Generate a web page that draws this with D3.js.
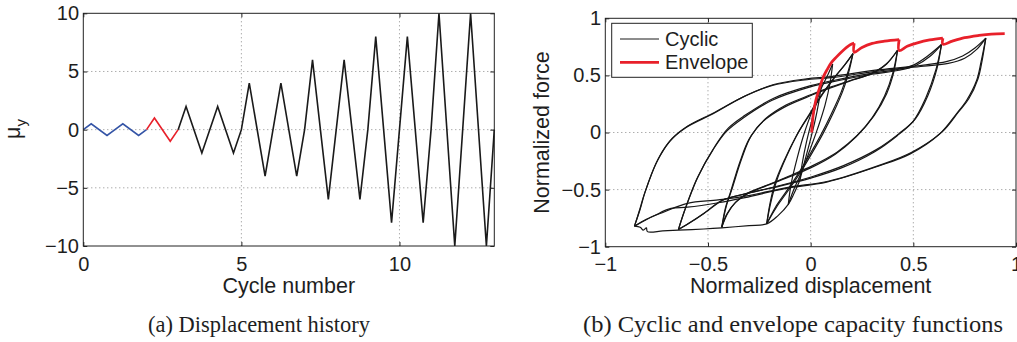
<!DOCTYPE html>
<html>
<head>
<meta charset="utf-8">
<script src="https://cdn.jsdelivr.net/npm/d3@7"></script>
<style>
  body { margin: 0; background: #fff; }
  svg text { font-family: "Liberation Sans", Arial, sans-serif; fill: #1e1e1e; }
  .caption { font-family: "Liberation Serif", "Times New Roman", serif; }
</style>
</head>
<body>
<svg id="fig" width="1017" height="342"></svg>
<script>
// ---------- (a) displacement history ----------
const historyT  = [0, 0.25, 0.75, 1, 1.25, 1.75, 2, 2.25, 2.75, 3, 3.25, 3.75, 4, 4.25, 4.75, 5,
                   5.25, 5.75, 6, 6.25, 6.75, 7, 7.25, 7.75, 8, 8.25, 8.75, 9, 9.25, 9.75, 10,
                   10.25, 10.75, 11, 11.25, 11.75, 12, 12.25, 12.75, 13];
const historyMu = [0, 0.5, -0.5, 0, 0.5, -0.5, 0, 1, -1, 0, 2, -2, 0, 2, -2, 0,
                   4, -4, 0, 4, -4, 0, 6, -6, 0, 6, -6, 0, 8, -8, 0,
                   8, -8, 0, 10, -10, 0, 10, -10, 0];
const phaseBreaks = [0, 2, 3, 13];          // blue part, red part, black part
const histXTicks = [0, 5, 10];
const histYTicks = [-10, -5, 0, 5, 10];

// ---------- (b) cyclic and envelope capacity ----------
const envelope = [[0.005,0.0],[0.012,0.15],[0.025,0.28],[0.04,0.37],[0.06,0.48],[0.08,0.55],[0.10,0.61],
  [0.125,0.66],[0.15,0.705],[0.175,0.745],[0.195,0.77],[0.212,0.782],
  [0.212,0.703],[0.25,0.745],[0.30,0.78],[0.36,0.80],[0.431,0.814],
  [0.431,0.718],[0.47,0.755],[0.52,0.785],[0.58,0.81],[0.644,0.826],
  [0.644,0.773],[0.69,0.80],[0.75,0.83],[0.82,0.85],[0.88,0.862],[0.945,0.866]];

const loopAUp   = [[-0.053,-0.42],[-0.04,-0.26],[-0.02,-0.08],[0.005,0.1],[0.03,0.27],[0.053,0.43]];
const loopADown = [[0.053,0.43],[0.04,0.27],[0.02,0.09],[-0.005,-0.09],[-0.03,-0.26],[-0.053,-0.42]];
const loopBUp   = [[-0.109,-0.63],[-0.095,-0.45],[-0.065,-0.22],[-0.03,0.0],[0.01,0.2],[0.05,0.38],[0.085,0.51],[0.107,0.60]];
const loopBDown = [[0.107,0.60],[0.095,0.44],[0.07,0.24],[0.035,0.04],[-0.005,-0.16],[-0.045,-0.35],[-0.08,-0.49],[-0.109,-0.63]];

const loop1Up    = [[-0.214,-0.80],[-0.195,-0.62],[-0.165,-0.42],[-0.12,-0.22],[-0.06,0.0],[0.0,0.17],[0.06,0.34],[0.12,0.49],[0.17,0.60],[0.206,0.69]];
const loop1Down  = [[0.206,0.69],[0.185,0.55],[0.15,0.36],[0.10,0.16],[0.05,-0.02],[0.0,-0.18],[-0.06,-0.36],[-0.12,-0.52],[-0.17,-0.65],[-0.214,-0.80]];
const loop1Up2   = [[-0.214,-0.80],[-0.20,-0.64],[-0.175,-0.45],[-0.13,-0.25],[-0.07,-0.03],[-0.01,0.15],[0.05,0.32],[0.11,0.47],[0.165,0.59],[0.206,0.69]];
const loop1Down2 = [[0.206,0.69],[0.19,0.56],[0.16,0.38],[0.11,0.17],[0.06,-0.01],[0.01,-0.17],[-0.05,-0.35],[-0.11,-0.51],[-0.165,-0.65],[-0.214,-0.80]];

const loop2Up    = [[-0.433,-0.83],[-0.41,-0.64],[-0.384,-0.50],[-0.336,-0.23],[-0.29,-0.03],[-0.22,0.12],[-0.12,0.24],[0.0,0.33],[0.10,0.40],[0.20,0.46],[0.30,0.52],[0.37,0.60],[0.423,0.72]];
const loop2Down  = [[0.423,0.72],[0.40,0.52],[0.36,0.32],[0.30,0.13],[0.22,-0.04],[0.12,-0.19],[0.0,-0.31],[-0.12,-0.40],[-0.22,-0.47],[-0.30,-0.53],[-0.37,-0.62],[-0.41,-0.72],[-0.433,-0.83]];
const loop2Up2   = [[-0.433,-0.83],[-0.415,-0.66],[-0.39,-0.52],[-0.345,-0.26],[-0.30,-0.06],[-0.23,0.10],[-0.13,0.22],[-0.01,0.315],[0.09,0.385],[0.19,0.45],[0.29,0.51],[0.365,0.595],[0.423,0.72]];
const loop2Down2 = [[0.423,0.72],[0.405,0.53],[0.37,0.34],[0.31,0.15],[0.23,-0.02],[0.13,-0.17],[0.01,-0.29],[-0.11,-0.385],[-0.21,-0.46],[-0.295,-0.52],[-0.365,-0.61],[-0.405,-0.71],[-0.433,-0.83]];

const loop3Up    = [[-0.644,-0.85],[-0.611,-0.67],[-0.547,-0.38],[-0.466,-0.12],[-0.40,0.04],[-0.32,0.15],[-0.18,0.30],[0.0,0.41],[0.15,0.47],[0.30,0.52],[0.42,0.55],[0.50,0.59],[0.57,0.67],[0.637,0.77]];
const loop3Down  = [[0.637,0.77],[0.61,0.55],[0.56,0.30],[0.50,0.10],[0.42,-0.03],[0.31,-0.17],[0.15,-0.31],[0.0,-0.40],[-0.15,-0.47],[-0.30,-0.53],[-0.433,-0.595],[-0.514,-0.70],[-0.58,-0.78],[-0.644,-0.85]];
const loop3Up2   = [[-0.644,-0.85],[-0.615,-0.69],[-0.555,-0.41],[-0.475,-0.15],[-0.41,0.01],[-0.33,0.125],[-0.19,0.28],[-0.01,0.395],[0.15,0.46],[0.30,0.51],[0.43,0.545],[0.51,0.585],[0.58,0.665],[0.637,0.77]];
const loop3Down2 = [[0.637,0.77],[0.615,0.56],[0.57,0.32],[0.51,0.12],[0.43,-0.01],[0.32,-0.15],[0.16,-0.29],[0.01,-0.385],[-0.14,-0.46],[-0.29,-0.525],[-0.425,-0.59],[-0.505,-0.69],[-0.575,-0.775],[-0.644,-0.85]];

const loop4Up    = [[-0.858,-0.82],[-0.83,-0.67],[-0.806,-0.52],[-0.742,-0.23],[-0.676,-0.055],[-0.60,0.055],[-0.466,0.178],[-0.32,0.32],[-0.18,0.42],[-0.02,0.47],[0.10,0.49],[0.337,0.55],[0.55,0.59],[0.66,0.62],[0.74,0.67],[0.80,0.74],[0.853,0.826]];
const loop4Down  = [[0.853,0.826],[0.83,0.62],[0.808,0.455],[0.759,0.28],[0.71,0.164],[0.629,-0.011],[0.485,-0.187],[0.321,-0.30],[0.078,-0.435],[-0.12,-0.49],[-0.32,-0.57],[-0.45,-0.615],[-0.60,-0.654],[-0.68,-0.665],[-0.76,-0.727],[-0.858,-0.82]];
const loop4Up2   = [[-0.858,-0.82],[-0.835,-0.69],[-0.81,-0.54],[-0.75,-0.26],[-0.685,-0.075],[-0.61,0.04],[-0.475,0.165],[-0.33,0.31],[-0.19,0.41],[-0.03,0.46],[0.10,0.48],[0.337,0.54],[0.55,0.58],[0.67,0.605],[0.75,0.65],[0.81,0.73],[0.853,0.826]];
const loop4Down2 = [[0.853,0.826],[0.835,0.63],[0.815,0.47],[0.77,0.295],[0.72,0.18],[0.64,0.005],[0.49,-0.175],[0.33,-0.29],[0.09,-0.425],[-0.11,-0.48],[-0.31,-0.555],[-0.45,-0.59],[-0.60,-0.62],[-0.72,-0.70],[-0.80,-0.76],[-0.858,-0.82]];

const negBackbone = [[-0.053,-0.42],[-0.08,-0.53],[-0.109,-0.63],[-0.16,-0.73],[-0.214,-0.80],[-0.30,-0.815],
  [-0.433,-0.835],[-0.52,-0.845],[-0.644,-0.855],[-0.72,-0.862],[-0.795,-0.868],[-0.80,-0.835],[-0.815,-0.855],[-0.83,-0.83],[-0.858,-0.82]];

const cyclicCurves = [loopAUp, loopADown, loopBUp, loopBDown,
  loop1Up, loop1Down, loop1Up2, loop1Down2,
  loop2Up, loop2Down, loop2Up2, loop2Down2,
  loop3Up, loop3Down, loop3Up2, loop3Down2,
  loop4Up, loop4Down, loop4Up2, loop4Down2, negBackbone];

const capTicks = [-1, -0.5, 0, 0.5, 1];
const legendLabels = ["Cyclic", "Envelope"];
const captions = ["(a) Displacement history", "(b) Cyclic and envelope capacity functions"];

// ---------- drawing ----------
const svg = d3.select("#fig");
const fmt = d => String(d).replace("-", "\u2212");

function frame(g, x, y, xt, yt) {
  const [x0, x1] = x.range(), [y0, y1] = y.range();
  // dotted grid
  g.append("g").selectAll("line").data(xt.filter(d => d > x.domain()[0] && d < x.domain()[1]))
    .join("line").attr("x1", d => x(d)).attr("x2", d => x(d)).attr("y1", y1).attr("y2", y0)
    .attr("stroke", "#8a8a8a").attr("stroke-dasharray", "1,3");
  g.append("g").selectAll("line").data(yt.filter(d => d > y.domain()[0] && d < y.domain()[1]))
    .join("line").attr("y1", d => y(d)).attr("y2", d => y(d)).attr("x1", x0).attr("x2", x1)
    .attr("stroke", "#8a8a8a").attr("stroke-dasharray", "1,3");
}

function axes(g, x, y, xt, yt) {
  const [x0, x1] = x.range(), [y0, y1] = y.range();
  const bottom = g.append("g").attr("transform", `translate(0,${y0})`)
    .call(d3.axisBottom(x).tickValues(xt).tickSizeInner(-4).tickSizeOuter(0).tickPadding(10.3).tickFormat(fmt));
  const left = g.append("g").attr("transform", `translate(${x0},0)`)
    .call(d3.axisLeft(y).tickValues(yt).tickSizeInner(-4).tickSizeOuter(0).tickPadding(4.3).tickFormat(fmt));
  const top = g.append("g").attr("transform", `translate(0,${y1})`)
    .call(d3.axisTop(x).tickValues(xt).tickSizeInner(-4).tickSizeOuter(0).tickFormat(""));
  const right = g.append("g").attr("transform", `translate(${x1},0)`)
    .call(d3.axisRight(y).tickValues(yt).tickSizeInner(-4).tickSizeOuter(0).tickFormat(""));
  [bottom, left, top, right].forEach(a => {
    a.select(".domain").remove();
    a.selectAll("line").attr("stroke", "#222");
    a.selectAll("text").attr("font-size", 20).attr("fill", "#1e1e1e")
      .attr("font-family", "Liberation Sans, Arial, sans-serif");
  });
  g.append("rect").attr("x", x0).attr("y", y1).attr("width", x1 - x0).attr("height", y0 - y1)
    .attr("fill", "none").attr("stroke", "#222").attr("stroke-width", 1);
}

// panel (a)
const xa = d3.scaleLinear().domain([0, 13]).range([83.3, 494.3]);
const ya = d3.scaleLinear().domain([-10, 10]).range([246, 13.3]);
const ga = svg.append("g");
frame(ga, xa, ya, histXTicks, histYTicks);

const histPts = historyT.map((t, i) => [t, historyMu[i]]);
const phaseColors = ["#3454a6", "#e8202a", "#1a1a1a"];
const lineA = d3.line().x(d => xa(d[0])).y(d => ya(d[1]));
phaseColors.forEach((c, k) => {
  const pts = histPts.filter(p => p[0] >= phaseBreaks[k] && p[0] <= phaseBreaks[k + 1]);
  ga.append("path").attr("d", lineA(pts)).attr("fill", "none")
    .attr("stroke", c).attr("stroke-width", 1.6).attr("stroke-linejoin", "miter");
});
axes(ga, xa, ya, histXTicks, histYTicks);

ga.append("text").attr("x", xa(6.5)).attr("y", 293).attr("text-anchor", "middle")
  .attr("font-size", 21.5).text("Cycle number");
const muLabel = ga.append("text").attr("transform", "translate(20,129) rotate(-90)")
  .attr("text-anchor", "middle").attr("font-size", 21.5);
muLabel.append("tspan").text("\u03bc");
muLabel.append("tspan").attr("dy", 6).attr("font-size", 15).text("y");

// panel (b)
const xb = d3.scaleLinear().domain([-1, 1]).range([605.3, 1016]);
const yb = d3.scaleLinear().domain([-1, 1]).range([246.7, 18.3]);
const gb = svg.append("g");
frame(gb, xb, yb, capTicks, capTicks);

const lineB = d3.line().x(d => xb(d[0])).y(d => yb(d[1])).curve(d3.curveCatmullRom.alpha(0.5));
gb.append("g").selectAll("path").data(cyclicCurves).join("path")
  .attr("d", lineB).attr("fill", "none").attr("stroke", "#161616").attr("stroke-width", 1.2);

// split the envelope where it drops vertically
const envParts = [[]];
envelope.forEach((p, i) => {
  if (i > 0 && p[0] === envelope[i - 1][0]) envParts.push([envelope[i - 1]]);
  envParts[envParts.length - 1].push(p);
});
gb.append("g").selectAll("path").data(envParts).join("path")
  .attr("d", d => d.length > 2 ? lineB(d) : d3.line().x(p => xb(p[0])).y(p => yb(p[1]))(d))
  .attr("fill", "none").attr("stroke", "#e8202a").attr("stroke-width", 2.8)
  .attr("stroke-linejoin", "miter").attr("stroke-linecap", "butt");

axes(gb, xb, yb, capTicks, capTicks);

gb.append("text").attr("x", xb(0)).attr("y", 293).attr("text-anchor", "middle")
  .attr("font-size", 21.5).text("Normalized displacement");
gb.append("text").attr("transform", `translate(549,${yb(0)}) rotate(-90)`)
  .attr("text-anchor", "middle").attr("font-size", 21.5).text("Normalized force");

// legend
const lg = gb.append("g");
lg.append("rect").attr("x", 611.7).attr("y", 23.3).attr("width", 140.6).attr("height", 54)
  .attr("fill", "#fff").attr("stroke", "#222").attr("stroke-width", 1);
const legendStroke = [{ c: "#1a1a1a", w: 1 }, { c: "#e8202a", w: 2.8 }];
legendLabels.forEach((lab, i) => {
  const yy = 39 + i * 23.3;
  lg.append("line").attr("x1", 620).attr("x2", 659).attr("y1", yy).attr("y2", yy)
    .attr("stroke", legendStroke[i].c).attr("stroke-width", legendStroke[i].w);
  lg.append("text").attr("x", 665).attr("y", yy + 7).attr("font-size", 20).text(lab);
});

// captions
const capX = [259, 793], capW = [222, 420];
captions.forEach((c, i) => {
  svg.append("text").attr("class", "caption").attr("x", capX[i]).attr("y", 332)
    .attr("text-anchor", "middle").attr("font-size", 23)
    .attr("textLength", capW[i]).attr("lengthAdjust", "spacingAndGlyphs").text(c);
});
</script>
</body>
</html>
